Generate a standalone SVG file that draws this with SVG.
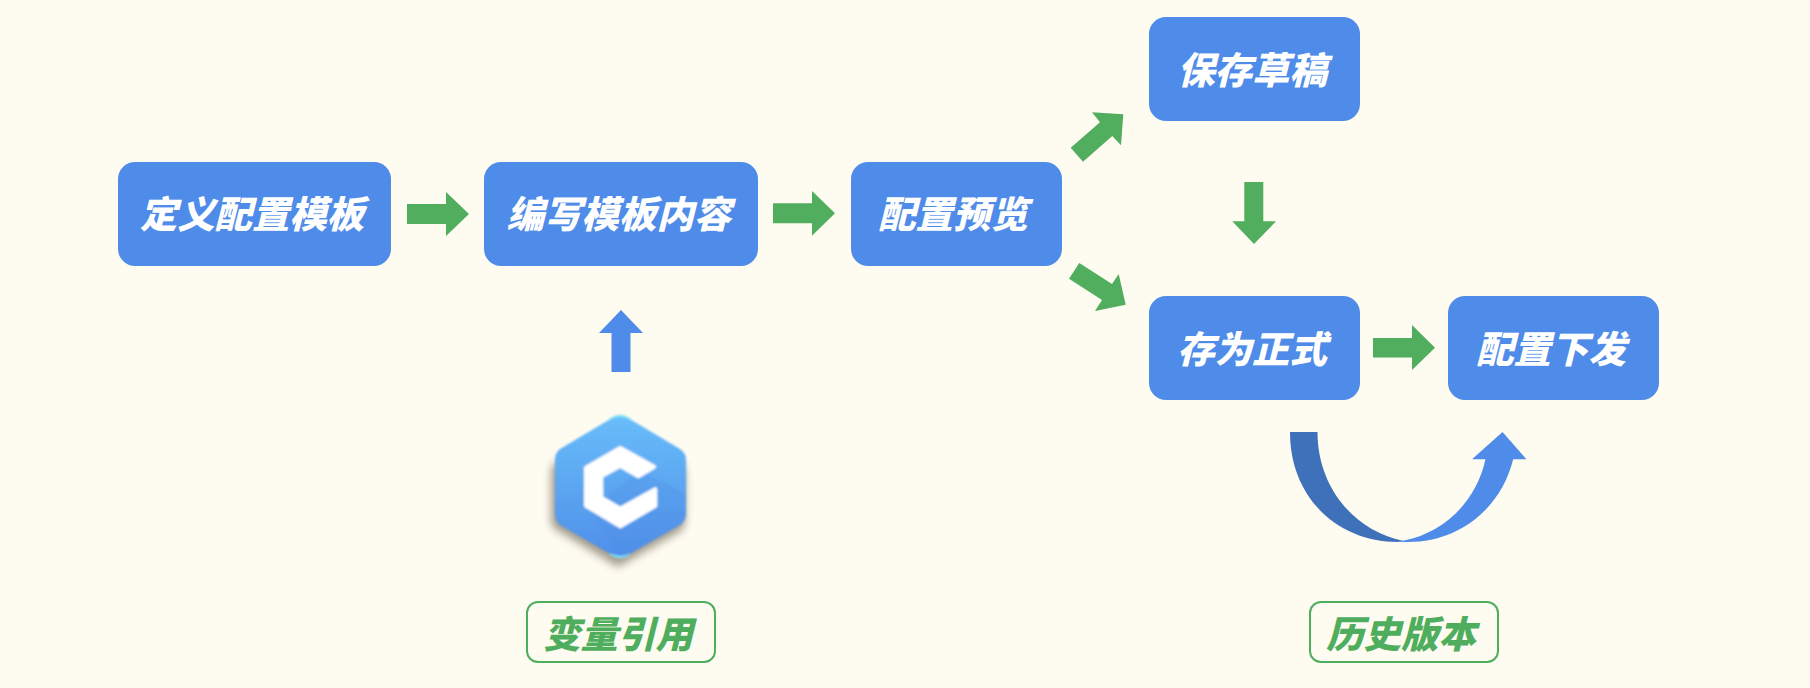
<svg xmlns="http://www.w3.org/2000/svg" width="1810" height="688" viewBox="0 0 1810 688">
<defs>
<linearGradient id="hexFill" x1="0" y1="0" x2="0" y2="1"><stop offset="0" stop-color="#68BDF9"/><stop offset="1" stop-color="#4F8FE9"/></linearGradient>
<filter id="shadow" x="-30%" y="-30%" width="160%" height="160%"><feGaussianBlur stdDeviation="4"/></filter>
<filter id="soft" x="-10%" y="-10%" width="120%" height="120%"><feGaussianBlur stdDeviation="1"/></filter>
</defs>
<style>
.box{fill:#4F8BE8}
.t{font-family:"Noto Sans CJK SC","Noto Sans",sans-serif;font-weight:900;font-style:italic;font-size:37.4px;text-anchor:middle;dominant-baseline:central}
.w{fill:#fff}
.g{fill:#4FAD5E}
.tag{fill:none;stroke:#4FAD5E;stroke-width:2}
.ga{fill:#50AE5E}
.ba{fill:#4F8BE8}
</style>
<rect width="1810" height="688" fill="#FEFBF0"/>
<g id="connectors">
<polygon class="ga" points="407,204 446,204 446,192 469,214 446,236 446,224 407,224"/>
<polygon class="ga" points="773,203.3 812,203.3 812,191 835,213.3 812,235.7 812,223.3 773,223.3"/>
<polygon class="ba" points="611.5,372 611.5,333 599,333 621,310 643,333 630.5,333 630.5,372"/>
<polygon class="ga" points="1070.7,147.7 1100,122.3 1092,112.3 1123.3,114.3 1121,145.3 1112.3,136 1083,161.7"/>
<polygon class="ga" points="1079.3,263 1112,284 1118.7,274 1125.7,304.7 1095,311 1102,300 1069,278.7"/>
<polygon class="ga" points="1244.3,182 1263.3,182 1263.3,221.3 1276,221.3 1254,244 1232.3,221.3 1244.3,221.3"/>
<polygon class="ga" points="1373,338 1412,338 1412,325 1435,347.7 1412,370 1412,357.5 1373,357.5"/>
<path fill="#3F70BA" d="M1290,432H1317.5C1317.5,488 1355,531 1403,540.7L1398,542C1338,542 1290,498 1290,432Z"/>
<path class="ba" d="M1403,540.7C1445,533 1477,500 1485.4,459.3H1472L1502.5,432L1526.4,459.3H1513.2C1501,508 1460,542 1408,542H1398Z"/>
</g>
<g id="node-define"><rect class="box" x="118" y="162" width="273" height="104" rx="17"/><text class="t w" x="252" y="212">定义配置模板</text></g>
<g id="node-write"><rect class="box" x="484" y="162" width="274" height="104" rx="17"/><text class="t w" x="619" y="212">编写模板内容</text></g>
<g id="node-preview"><rect class="box" x="851" y="162" width="211" height="104" rx="17"/><text class="t w" x="953" y="212">配置预览</text></g>
<g id="node-draft"><rect class="box" x="1149" y="17" width="211" height="104" rx="17"/><text class="t w" x="1252" y="68">保存草稿</text></g>
<g id="node-formal"><rect class="box" x="1149" y="296" width="211" height="104" rx="17"/><text class="t w" x="1252" y="346.5">存为正式</text></g>
<g id="node-publish"><rect class="box" x="1448" y="296" width="211" height="104" rx="17"/><text class="t w" x="1551" y="346.5">配置下发</text></g>
<g id="node-icon">
<path d="M621,424L682,459Q688,463 688,470V518Q688,525 682,529L621,564L563,529Q554,525 554,518V470Q554,463 560,459Z" fill="#5a5040" opacity=".55" filter="url(#shadow)" transform="translate(-3,3)"/>
<g filter="url(#soft)">
<path d="M612,418Q620,413 628,418L680,449Q686,453 686,460V514Q686,521 680,525L628,555Q620,560 612,555L560,525Q555,521 555,514V460Q555,453 560,449Z" fill="url(#hexFill)"/>
<path d="M610,419Q620,412 630,419L628,418Q620,415 612,418Z M610,554Q620,561 630,554L628,555Q620,558 612,555Z" fill="#7FE0FB" stroke="#7FE0FB" stroke-width="1.5"/>
<polygon points="640,470 686,494 686,514 680,525 628,555 620,556 590,510" fill="#4F8CE5" opacity=".25"/>
<polygon points="620.3,448 586,467.7 586,505.7 620.3,526.3 655.3,505.7 655.3,489.3 620.3,508.7 601.3,497.7 601.3,476.3 620.3,465.7 638.3,476.3 654,466.7" fill="#fff" stroke="#fff" stroke-width="4" stroke-linejoin="round"/>
</g>
</g>
<g id="label-variable"><rect class="tag" x="527" y="602" width="188" height="60" rx="11"/><text class="t g" x="618" y="632">变量引用</text></g>
<g id="label-history"><rect class="tag" x="1310" y="602" width="188" height="60" rx="11"/><text class="t g" x="1401" y="631.5">历史版本</text></g>
</svg>
